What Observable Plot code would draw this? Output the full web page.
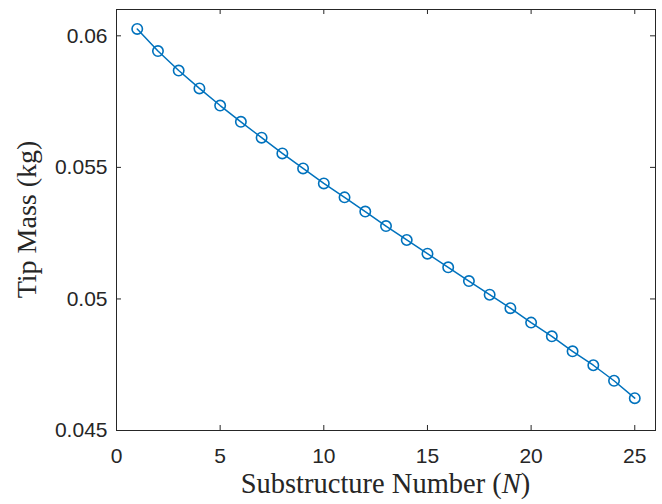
<!DOCTYPE html>
<html>
<head>
<meta charset="utf-8">
<script src="https://cdn.jsdelivr.net/npm/d3@7"></script>
<script src="https://cdn.jsdelivr.net/npm/@observablehq/plot@0.6"></script>
<style>
  html, body { margin: 0; padding: 0; background: #fff; }
  #chart svg { display: block; }
</style>
</head>
<body>
<div id="chart"></div>
<script>
const substructure = [1,2,3,4,5,6,7,8,9,10,11,12,13,14,15,16,17,18,19,20,21,22,23,24,25];
const tipMass = [0.06026,0.05942,0.05868,0.05800,0.05735,0.05673,0.05613,0.05553,0.05496,0.05439,
                 0.05386,0.05332,0.05277,0.05224,0.05172,0.05120,0.05068,0.05016,0.04965,0.04910,
                 0.04858,0.04801,0.04748,0.04689,0.04623];
const xTicks = [0,5,10,15,20,25];
const yTicks = [0.045,0.05,0.055,0.06];
const yTickLabels = ["0.045","0.05","0.055","0.06"];
const xLabel = "Substructure Number (";
const xLabelVar = "N";
const yLabel = "Tip Mass (kg)";

const data = substructure.map((n, i) => ({n, m: tipMass[i]}));
const color = "#0072BD";
const axisColor = "#262626";

const W = 662, H = 504;
const mL = 116, mR = 7, mT = 9, mB = 74;
const innerW = W - mL - mR;
const innerH = H - mT - mB;
const tk = 5;

const plot = Plot.plot({
  width: W,
  height: H,
  marginLeft: mL,
  marginRight: mR,
  marginTop: mT,
  marginBottom: mB,
  style: {fontFamily: "'Liberation Sans', Arial, sans-serif", fontSize: "21px", color: axisColor, background: "#fff"},
  x: {domain: [0, 26]},
  y: {domain: [0.045, 0.061]},
  marks: [
    Plot.axisX(xTicks, {anchor: "bottom", tickSize: 0, tickPadding: 18, label: null, fontSize: 21, fill: axisColor}),
    Plot.axisY(yTicks, {anchor: "left", tickSize: 0, tickPadding: 9, label: null, fontSize: 21, fill: axisColor,
      tickFormat: (d) => yTickLabels[yTicks.indexOf(d)]}),
    // inward ticks on all four sides
    Plot.tickX(xTicks, {x: (d) => d, insetTop: innerH - tk, stroke: axisColor, strokeWidth: 1}),
    Plot.tickX(xTicks, {x: (d) => d, insetBottom: innerH - tk, stroke: axisColor, strokeWidth: 1}),
    Plot.tickY(yTicks, {y: (d) => d, insetRight: innerW - tk, stroke: axisColor, strokeWidth: 1}),
    Plot.tickY(yTicks, {y: (d) => d, insetLeft: innerW - tk, stroke: axisColor, strokeWidth: 1}),
    Plot.frame({stroke: axisColor, strokeWidth: 1}),
    Plot.line(data, {x: "n", y: "m", stroke: color, strokeWidth: 1.5}),
    Plot.dot(data, {x: "n", y: "m", r: 5.2, stroke: color, strokeWidth: 1.6, fill: "none"})
  ]
});

const svg = d3.select(plot);
const cx = mL + innerW / 2;
const cy = mT + innerH / 2;

const xt = svg.append("text")
  .attr("x", cx)
  .attr("y", 493)
  .attr("text-anchor", "middle")
  .attr("font-family", "'Liberation Serif', 'Times New Roman', serif")
  .attr("font-size", 28.5)
  .attr("fill", axisColor)
  .text(xLabel);
xt.append("tspan").attr("font-style", "italic").text(xLabelVar);
xt.append("tspan").text(")");

svg.append("text")
  .attr("transform", `translate(36,${cy}) rotate(-90)`)
  .attr("text-anchor", "middle")
  .attr("font-family", "'Liberation Serif', 'Times New Roman', serif")
  .attr("font-size", 28)
  .attr("fill", axisColor)
  .text(yLabel);

document.getElementById("chart").appendChild(plot);
</script>
</body>
</html>
